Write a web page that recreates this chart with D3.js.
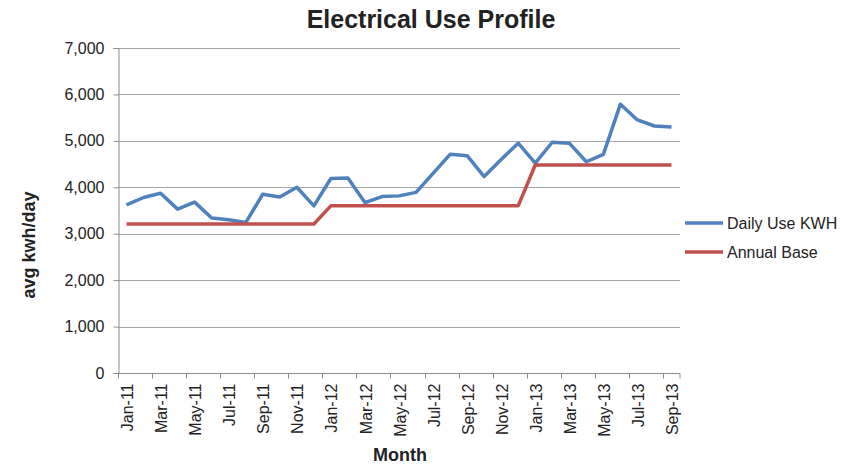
<!DOCTYPE html>
<html>
<head>
<meta charset="utf-8">
<script src="https://cdn.jsdelivr.net/npm/d3@7"></script>
<style>
  body { margin: 0; background: #fff; }
  text { font-family: "Liberation Sans", Arial, sans-serif; fill: #222; }
</style>
</head>
<body>
<div id="chart"></div>
<script>
// Data
const months = [
  'Jan-11','Feb-11','Mar-11','Apr-11','May-11','Jun-11','Jul-11','Aug-11','Sep-11','Oct-11','Nov-11','Dec-11',
  'Jan-12','Feb-12','Mar-12','Apr-12','May-12','Jun-12','Jul-12','Aug-12','Sep-12','Oct-12','Nov-12','Dec-12',
  'Jan-13','Feb-13','Mar-13','Apr-13','May-13','Jun-13','Jul-13','Aug-13','Sep-13'
];
const dailyUse = [
  3620, 3780, 3870, 3530, 3680, 3340, 3300, 3240, 3850, 3790, 4000, 3600,
  4190, 4200, 3670, 3800, 3815, 3890, 4300, 4710, 4680, 4230, 4600, 4950,
  4520, 4970, 4950, 4550, 4710, 5790, 5450, 5320, 5300
];
const annualBase = [
  3210, 3210, 3210, 3210, 3210, 3210, 3210, 3210, 3210, 3210, 3210, 3210,
  3600, 3600, 3600, 3600, 3600, 3600, 3600, 3600, 3600, 3600, 3600, 3600,
  4480, 4480, 4480, 4480, 4480, 4480, 4480, 4480, 4480
];
const yTicks = [0, 1000, 2000, 3000, 4000, 5000, 6000, 7000];
const seriesNames = ['Daily Use KWH', 'Annual Base'];
const colors = ['#4f81bd', '#c0504d'];

const width = 846;
const height = 465;
const margin = { left: 118, right: 166, top: 48, bottom: 92 };

const svg = d3.select('#chart')
  .append('svg')
  .attr('width', width)
  .attr('height', height);

const x = d3.scaleBand()
  .domain(months)
  .range([margin.left, width - margin.right]);

const y = d3.scaleLinear()
  .domain([0, 7000])
  .range([height - margin.bottom, margin.top]);

// gridlines
svg.append('g')
  .selectAll('line')
  .data(yTicks.slice(1))
  .enter().append('line')
  .attr('x1', margin.left)
  .attr('x2', width - margin.right)
  .attr('y1', d => Math.round(y(d)) + 0.5)
  .attr('y2', d => Math.round(y(d)) + 0.5)
  .attr('stroke', '#a6a6a6')
  .attr('stroke-width', 1);

// y axis
const yAxis = svg.append('g')
  .attr('transform', `translate(${margin.left + 0.5},0)`)
  .call(d3.axisLeft(y).tickValues(yTicks).tickSize(5).tickPadding(9).tickFormat(d3.format(',')));
yAxis.select('.domain').attr('stroke', '#8c8c8c');
yAxis.selectAll('.tick line').attr('stroke', '#8c8c8c');
yAxis.selectAll('.tick text')
  .attr('font-size', 16)
  .style('font-family', '"Liberation Sans", Arial, sans-serif')
  .attr('fill', '#222');

// x axis: ticks at category boundaries every 2 months
const xAxisG = svg.append('g')
  .attr('transform', `translate(0,${Math.round(y(0)) + 0.5})`);
xAxisG.append('line')
  .attr('x1', margin.left)
  .attr('x2', width - margin.right)
  .attr('stroke', '#8c8c8c');
const labelled = months.filter((d, i) => i % 2 === 0);
xAxisG.selectAll('.xtick')
  .data(labelled.concat(['end']))
  .enter().append('line')
  .attr('x1', d => d === 'end' ? width - margin.right : Math.round(x(d)) + 0.5)
  .attr('x2', d => d === 'end' ? width - margin.right : Math.round(x(d)) + 0.5)
  .attr('y1', 0)
  .attr('y2', 5)
  .attr('stroke', '#8c8c8c');
xAxisG.selectAll('.xlabel')
  .data(labelled)
  .enter().append('text')
  .attr('transform', d => `translate(${x(d) + x.bandwidth() / 2 + 1},10) rotate(-90)`)
  .attr('text-anchor', 'end')
  .attr('dy', '0.35em')
  .attr('font-size', 16)
  .text(d => d);

// lines
const line = d3.line()
  .x((d, i) => x(months[i]) + x.bandwidth() / 2)
  .y(d => y(d));

[dailyUse, annualBase].forEach((vals, k) => {
  svg.append('path')
    .datum(vals)
    .attr('fill', 'none')
    .attr('stroke', colors[k])
    .attr('stroke-width', 3.5)
    .attr('stroke-linejoin', 'round')
    .attr('d', line);
});

// title
svg.append('text')
  .attr('x', 431)
  .attr('y', 28)
  .attr('text-anchor', 'middle')
  .attr('font-size', 25)
  .attr('font-weight', 'bold')
  .attr('fill', '#111')
  .text('Electrical Use Profile');

// axis titles
svg.append('text')
  .attr('transform', 'translate(35,245) rotate(-90)')
  .attr('text-anchor', 'middle')
  .attr('font-size', 18)
  .attr('font-weight', 'bold')
  .text('avg kwh/day');

svg.append('text')
  .attr('x', 400)
  .attr('y', 461)
  .attr('text-anchor', 'middle')
  .attr('font-size', 18)
  .attr('font-weight', 'bold')
  .text('Month');

// legend
const legend = svg.append('g')
  .selectAll('g')
  .data(seriesNames)
  .enter().append('g')
  .attr('transform', (d, i) => `translate(685,${223 + i * 29})`);
legend.append('line')
  .attr('x1', 0)
  .attr('x2', 38)
  .attr('stroke', (d, i) => colors[i])
  .attr('stroke-width', 3.5);
legend.append('text')
  .attr('x', 42)
  .attr('dy', '0.35em')
  .attr('font-size', 16)
  .text(d => d);
</script>
</body>
</html>
